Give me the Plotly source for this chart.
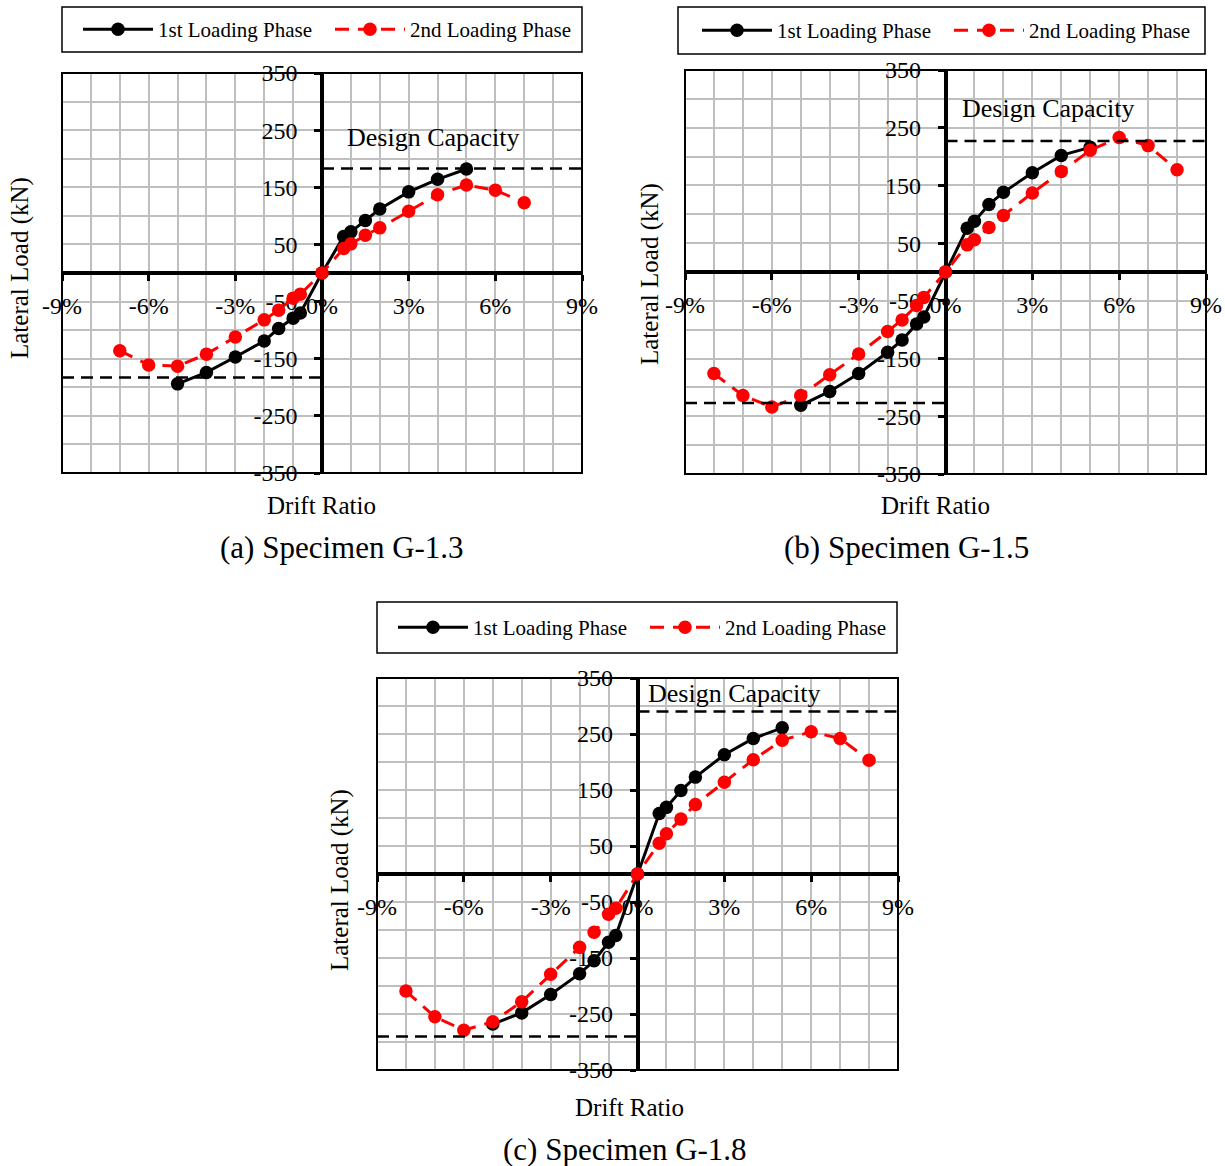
import plotly.graph_objects as go

W, H = 1225, 1166
FONT = "Times New Roman, Liberation Serif, serif"

# ---------------- data ----------------
drift_first = [-5, -4, -3, -2, -1.5, -1, -0.75, 0, 0.75, 1, 1.5, 2, 3, 4, 5]
drift_second_a = [-7, -6, -5, -4, -3, -2, -1.5, -1, -0.75, 0, 0.75, 1, 1.5, 2, 3, 4, 5, 6, 7]
drift_second_bc = [-8, -7, -6, -5, -4, -3, -2, -1.5, -1, -0.75, 0, 0.75, 1, 1.5, 2, 3, 4, 5, 6, 7, 8]

load_first_a = [-194, -174, -147, -119, -97, -79, -70, 0, 64, 72, 92, 112, 142, 164, 182]
load_second_a = [-136, -161, -163, -142, -112, -82, -65, -44, -37, 0, 43, 51, 66, 79, 108, 137, 154, 145, 123]

load_first_b = [-231, -207, -176, -139, -118, -90, -78, 0, 76, 88, 117, 138, 172, 202, 216]
load_second_b = [-176, -214, -234, -214, -178, -142, -103, -83, -58, -44, 0, 47, 56, 77, 98, 137, 174, 211, 233, 219, 177]

load_first_c = [-268, -248, -215, -178, -155, -122, -110, 0, 108, 119, 149, 173, 213, 242, 261]
load_second_c = [-209, -255, -279, -264, -228, -179, -131, -104, -72, -61, 0, 55, 72, 98, 124, 164, 204, 239, 254, 242, 203]

design_capacity = {"a": 183, "b": 227, "c": 290}

x_tickvals = [-9, -6, -3, 0, 3, 6, 9]
x_ticktext = ["-9%", "-6%", "-3%", "0%", "3%", "6%", "9%"]
y_tickvals = [-350, -250, -150, -50, 50, 150, 250, 350]
y_ticktext = ["-350", "-250", "-150", "-50", "50", "150", "250", "350"]

captions = {"a": "(a) Specimen G-1.3", "b": "(b) Specimen G-1.5", "c": "(c) Specimen G-1.8"}

# ---------------- layout geometry (pixels) ----------------
panels = {
    "a": dict(px=(62, 582), py=(73, 473), legbox=(62, 582, 7, 52), leg_x=85, xs=drift_second_a,
              f=load_first_a, s=load_second_a, dc_x=0.8, dc_y=238,
              ytitle=(20, 268), xtitle=(321, 505), cap=(342, 547)),
    "b": dict(px=(685, 1206), py=(70, 474), legbox=(678, 1205, 7, 54), leg_x=704, xs=drift_second_bc,
              f=load_first_b, s=load_second_b, dc_x=0.5, dc_y=283,
              ytitle=(650, 274), xtitle=(935, 505), cap=(906, 547)),
    "c": dict(px=(377, 898), py=(678, 1070), legbox=(377, 897, 602, 653), leg_x=400, xs=drift_second_bc,
              f=load_first_c, s=load_second_c, dc_x=0.3, dc_y=323,
              ytitle=(340, 880), xtitle=(630, 1107), cap=(625, 1149)),
}

fig = go.Figure()
layout = dict(width=W, height=H, margin=dict(l=0, r=0, t=0, b=0, autoexpand=False), autosize=False,
              paper_bgcolor="white", plot_bgcolor="white",
              font=dict(family=FONT, color="black", size=24))
annotations = []
shapes = []

for i, (key, p) in enumerate(panels.items()):
    n = "" if i == 0 else str(i + 1)
    xa, ya = "x" + n, "y" + n
    leg = "legend" + n
    x0, x1 = p["px"]
    y0, y1 = p["py"]
    xdom = [x0 / W, x1 / W]
    ydom = [1 - y1 / H, 1 - y0 / H]

    fig.add_trace(go.Scatter(x=drift_first, y=p["f"], mode="lines+markers", name="1st Loading Phase",
                             line=dict(color="black", width=3), marker=dict(size=13.5, color="black"),
                             xaxis=xa, yaxis=ya, legend=leg))
    fig.add_trace(go.Scatter(x=p["xs"], y=p["s"], mode="lines+markers", name="2nd Loading Phase",
                             line=dict(color="#ff0000", width=3, dash="14px,9px"),
                             marker=dict(size=13.5, color="#ff0000"),
                             xaxis=xa, yaxis=ya, legend=leg))
    dc = design_capacity[key]
    fig.add_trace(go.Scatter(x=[0, 9], y=[dc, dc], mode="lines", showlegend=False,
                             line=dict(color="black", width=2.5, dash="12px,7px"),
                             xaxis=xa, yaxis=ya, hoverinfo="skip"))
    fig.add_trace(go.Scatter(x=[-9, 0], y=[-dc, -dc], mode="lines", showlegend=False,
                             line=dict(color="black", width=2.5, dash="12px,7px"),
                             xaxis=xa, yaxis=ya, hoverinfo="skip"))

    layout["xaxis" + n] = dict(
        domain=xdom, range=[-9, 9], anchor="free", position=(ydom[0] + ydom[1]) / 2,
        tickmode="array", tickvals=x_tickvals, ticktext=x_ticktext,
        showline=True, linecolor="black", linewidth=3.5, zeroline=False,
        ticks="outside", ticklen=6, tickwidth=3, tickcolor="black",
        ticklabelstandoff=4, tickfont=dict(size=24, family=FONT, color="black"),
        showgrid=True, gridcolor="#bfbfbf", gridwidth=1.5, layer="below traces",
        minor=dict(tickmode="linear", tick0=0, dtick=1, showgrid=True,
                   gridcolor="#bfbfbf", gridwidth=1.5, ticks=""),
        fixedrange=True, automargin=False,
    )
    layout["yaxis" + n] = dict(
        domain=ydom, range=[-350, 350], anchor="free", position=(xdom[0] + xdom[1]) / 2,
        tickmode="array", tickvals=y_tickvals, ticktext=y_ticktext,
        showline=True, linecolor="black", linewidth=3.5, zeroline=False,
        ticks="outside", ticklen=6, tickwidth=3, tickcolor="black",
        ticklabelstandoff=12, tickfont=dict(size=24, family=FONT, color="black"),
        showgrid=True, gridcolor="#bfbfbf", gridwidth=1.5, layer="below traces",
        minor=dict(tickmode="linear", tick0=0, dtick=50, showgrid=True,
                   gridcolor="#bfbfbf", gridwidth=1.5, ticks=""),
        fixedrange=True, automargin=False,
    )
    bx0, bx1, by0, by1 = p["legbox"]
    layout[leg] = dict(
        x=(p["leg_x"] - 7) / W, y=1 - ((by0 + by1) / 2) / H, xanchor="left", yanchor="middle",
        orientation="h", borderwidth=0, bgcolor="rgba(0,0,0,0)",
        font=dict(size=21, family=FONT, color="black"), entrywidth=167,
        itemwidth=70, tracegroupgap=0,
    )
    shapes.append(dict(type="rect", xref="paper", yref="paper",
                       x0=bx0 / W, x1=bx1 / W, y0=1 - by1 / H, y1=1 - by0 / H,
                       line=dict(color="black", width=1.5), layer="above"))
    shapes.append(dict(type="rect", xref=xa + " domain", yref=ya + " domain",
                       x0=0, x1=1, y0=0, y1=1, line=dict(color="black", width=2), layer="above"))

    annotations.append(dict(text="Design Capacity", x=p["dc_x"], y=p["dc_y"], xref=xa, yref=ya,
                            xanchor="left", yanchor="middle", showarrow=False,
                            font=dict(size=26, family=FONT, color="black")))
    annotations.append(dict(text="Lateral Load (kN)", x=p["ytitle"][0] / W, y=1 - p["ytitle"][1] / H,
                            xref="paper", yref="paper", textangle=-90, showarrow=False,
                            xanchor="center", yanchor="middle",
                            font=dict(size=25, family=FONT, color="black")))
    annotations.append(dict(text="Drift Ratio", x=p["xtitle"][0] / W, y=1 - p["xtitle"][1] / H,
                            xref="paper", yref="paper", showarrow=False,
                            xanchor="center", yanchor="middle",
                            font=dict(size=25, family=FONT, color="black")))
    annotations.append(dict(text=captions[key], x=p["cap"][0] / W, y=1 - p["cap"][1] / H,
                            xref="paper", yref="paper", showarrow=False,
                            xanchor="center", yanchor="middle",
                            font=dict(size=31, family=FONT, color="black")))

layout["annotations"] = annotations
layout["shapes"] = shapes
layout["showlegend"] = True
fig.update_layout(**layout)
fig.write_html("out.html")
